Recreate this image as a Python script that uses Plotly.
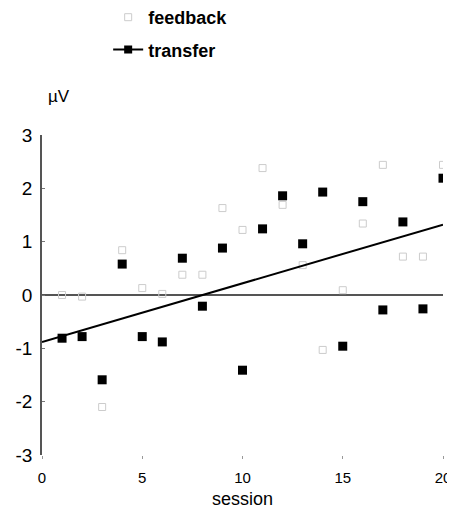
import numpy as np
import plotly.graph_objects as go

sessions = list(range(1, 21))
feedback = [0.0, -0.03, -2.1, 0.84, 0.13, 0.02, 0.38, 0.38, 1.63, 1.22,
            2.38, 1.69, 0.56, -1.03, 0.09, 1.34, 2.44, 0.72, 0.72, 2.44]
transfer = [-0.81, -0.78, -1.59, 0.58, -0.78, -0.88, 0.69, -0.21, 0.88, -1.41,
            1.24, 1.86, 0.96, 1.93, -0.96, 1.75, -0.28, 1.37, -0.26, 2.19]
x_ticks = [0, 5, 10, 15, 20]
y_ticks = [-3, -2, -1, 0, 1, 2, 3]

slope, intercept = np.polyfit(sessions, transfer, 1)
fit_x = [0, 20]
fit_y = [intercept + slope * v for v in fit_x]

FONT = "Liberation Sans, Arial, sans-serif"

fig = go.Figure()
fig.add_trace(go.Scatter(
    x=sessions, y=feedback, mode="markers", name="feedback",
    legendgroup="a",
    marker=dict(symbol="square-open", size=7, color="#cccccc", line=dict(width=1, color="#cccccc")),
))
fig.add_trace(go.Scatter(
    x=fit_x, y=fit_y, mode="lines", showlegend=False,
    line=dict(color="black", width=2),
))
fig.add_trace(go.Scatter(
    x=sessions, y=transfer, mode="markers", showlegend=False,
    marker=dict(symbol="square", size=9, color="black"),
))
fig.add_trace(go.Scatter(
    x=[None], y=[None], mode="lines+markers", name="transfer",
    legendgroup="b",
    marker=dict(symbol="square", size=8, color="black"),
    line=dict(color="black", width=2),
))

# page body adds an 8px margin, so the figure is offset accordingly
fig.update_layout(
    width=447, height=506,
    margin=dict(l=34, r=12, t=127, b=59, autoexpand=False),
    paper_bgcolor="white", plot_bgcolor="white",
    font=dict(family=FONT, color="black"),
    legend=dict(
        x=0.165, y=1.425, xanchor="left", yanchor="top",
        font=dict(size=18, family=FONT, weight="bold"),
        tracegroupgap=6, traceorder="grouped", bgcolor="rgba(0,0,0,0)",
        itemwidth=30,
    ),
    xaxis=dict(
        range=[0, 20], tickvals=x_ticks, ticktext=[str(v) for v in x_ticks],
        showgrid=False, zeroline=False, showline=False, automargin=False,
        ticks="outside", ticklen=3, tickcolor="#999",
        tickfont=dict(size=15), ticklabelstandoff=6,
    ),
    yaxis=dict(
        range=[-3, 3], tickvals=y_ticks, ticktext=[str(v) for v in y_ticks],
        showgrid=False, zeroline=True, zerolinecolor="#555", zerolinewidth=1.5,
        showline=True, linecolor="#555", linewidth=1.5, automargin=False,
        ticks="inside", ticklen=3, tickcolor="#777",
        tickfont=dict(size=19), ticklabelstandoff=4,
    ),
    annotations=[
        dict(
            text="µV", xref="paper", yref="paper", x=0.01, y=1.119,
            xanchor="left", yanchor="middle", showarrow=False,
            font=dict(size=17),
        ),
        dict(
            text="session", xref="paper", yref="paper", x=0.5, y=-0.136,
            xanchor="center", yanchor="middle", showarrow=False,
            font=dict(size=18), borderpad=0,
        ),
    ],
)

fig.write_html("out.html")
